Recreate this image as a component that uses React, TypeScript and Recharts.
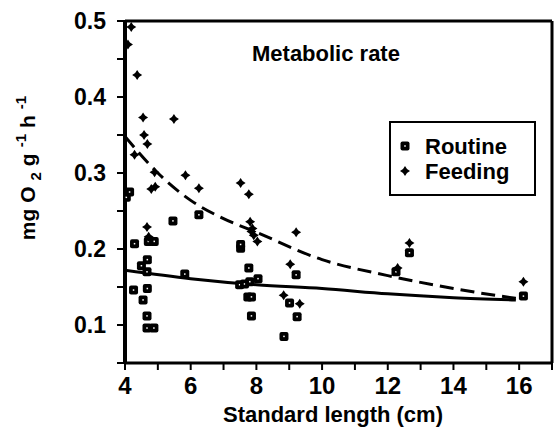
import React from 'react';
import {
  ComposedChart, Scatter, Line, XAxis, YAxis, ReferenceLine, Legend, Customized,
} from 'recharts';

const routineX = [4.04, 4.14, 4.29, 4.26, 4.50, 4.55, 4.67, 4.68, 4.68, 4.67, 4.67, 4.88, 4.71, 4.89, 5.46, 5.82, 6.25, 7.52, 7.52, 7.49, 7.64, 7.77, 7.80, 8.05, 7.74, 7.85, 7.85, 8.84, 9.01, 9.21, 9.24, 12.25, 12.66, 16.13];
const routineY = [0.268, 0.275, 0.207, 0.146, 0.178, 0.133, 0.170, 0.186, 0.148, 0.112, 0.096, 0.096, 0.210, 0.210, 0.237, 0.167, 0.245, 0.201, 0.206, 0.153, 0.154, 0.175, 0.157, 0.161, 0.137, 0.137, 0.112, 0.085, 0.129, 0.166, 0.111, 0.170, 0.195, 0.138];

const feedingX = [4.09, 4.19, 4.37, 4.55, 5.49, 4.58, 4.68, 4.29, 4.90, 5.84, 4.80, 4.92, 6.25, 4.67, 4.72, 7.52, 7.77, 7.81, 7.88, 7.85, 7.92, 8.03, 9.21, 9.03, 8.83, 9.32, 12.30, 12.66, 16.13];
const feedingY = [0.469, 0.492, 0.429, 0.373, 0.371, 0.350, 0.338, 0.324, 0.301, 0.297, 0.279, 0.282, 0.280, 0.229, 0.216, 0.287, 0.272, 0.236, 0.227, 0.223, 0.218, 0.210, 0.222, 0.180, 0.139, 0.128, 0.175, 0.208, 0.157];

const routineFitX = [4, 6, 8, 10, 12, 14, 15.9];
const routineFitY = [0.172, 0.161, 0.153, 0.148, 0.141, 0.136, 0.133];
const feedingFitX = [4, 5, 6, 7, 8, 10, 12, 14, 15.9];
const feedingFitY = [0.348, 0.300, 0.264, 0.240, 0.222, 0.186, 0.165, 0.148, 0.135];

const xTicks = [4, 5, 6, 7, 8, 9, 10, 11, 12, 13, 14, 15, 16, 17];
const xTickLabels = ['4', '6', '8', '10', '12', '14', '16'];
const yTicks = [0.05, 0.1, 0.15, 0.2, 0.25, 0.3, 0.35, 0.4, 0.45, 0.5];
const yTickLabels = ['0.1', '0.2', '0.3', '0.4', '0.5'];

const FONT = '"Liberation Sans", Arial, Helvetica, sans-serif';

const routine = routineX.map((x, i) => ({ x, y: routineY[i] }));
const feeding = feedingX.map((x, i) => ({ x, y: feedingY[i] }));
const routineFit = routineFitX.map((x, i) => ({ x, y: routineFitY[i] }));
const feedingFit = feedingFitX.map((x, i) => ({ x, y: feedingFitY[i] }));

const SquareShape = (props: any) => {
  const { cx, cy } = props;
  if (cx == null || cy == null) return null;
  return (
    <g>
      <rect x={cx - 4.5} y={cy - 4.5} width={9} height={9} rx={2} fill="#000" />
      <rect x={cx - 0.75} y={cy - 0.75} width={1.5} height={1.5} fill="#fff" />
    </g>
  );
};

const StarShape = (props: any) => {
  const { cx, cy } = props;
  if (cx == null || cy == null) return null;
  const r = 5, s = 2;
  const d = `M${cx},${cy - r} L${cx + s},${cy - s} L${cx + r},${cy} L${cx + s},${cy + s} L${cx},${cy + r} L${cx - s},${cy + s} L${cx - r},${cy} L${cx - s},${cy - s} Z`;
  return <path d={d} fill="#000" />;
};

const XTick = (props: any) => {
  const { x, y, payload } = props;
  const label = String(payload.value);
  if (!xTickLabels.includes(label)) return null;
  return (
    <text x={x} y={y + 22} textAnchor="middle" fontFamily={FONT} fontWeight="bold" fontSize={24} fill="#000">
      {label}
    </text>
  );
};

const YTick = (props: any) => {
  const { x, y, payload } = props;
  const label = (Math.round(payload.value * 100) / 100).toString();
  if (!yTickLabels.includes(label)) return null;
  return (
    <text x={x - 9} y={y + 8} textAnchor="end" fontFamily={FONT} fontWeight="bold" fontSize={23} fill="#000">
      {label}
    </text>
  );
};

const Texts = () => (
  <g fontFamily={FONT} fontWeight="bold" fill="#000">
    <text x={252} y={61} fontSize={22}>Metabolic rate</text>
    <text x={333} y={422} fontSize={22} textAnchor="middle">Standard length (cm)</text>
    <text transform="translate(35,168) rotate(-90)" fontSize={21} textAnchor="middle">
      <tspan>mg O</tspan>
      <tspan dx={6} dy={6} fontSize={15}>2</tspan>
      <tspan dx={6} dy={-6}>g</tspan>
      <tspan dx={6} dy={-9} fontSize={15}>-1</tspan>
      <tspan dx={6} dy={9}>h</tspan>
      <tspan dx={6} dy={-9} fontSize={15}>-1</tspan>
    </text>
  </g>
);

const LegendBox = () => (
  <div style={{
    width: 143, height: 71, border: '2px solid #000', boxSizing: 'content-box',
    fontFamily: FONT, fontWeight: 'bold', fontSize: 22, color: '#000', background: '#fff',
  }}>
    <svg width={143} height={71} style={{ display: 'block' }}>
      <SquareShape cx={14} cy={23} />
      <StarShape cx={14} cy={48} />
      <text x={34} y={31} fontFamily={FONT} fontWeight="bold" fontSize={22}>Routine</text>
      <text x={34} y={56} fontFamily={FONT} fontWeight="bold" fontSize={22}>Feeding</text>
    </svg>
  </div>
);

export default function App() {
  return (
    <div style={{ position: 'absolute', left: 0, top: 0, background: '#fff' }}>
      <ComposedChart width={557} height={431} margin={{ top: 21, right: 5, left: 65, bottom: 38 }}>
        <XAxis
          dataKey="x" type="number" domain={[4, 17]} ticks={xTicks} interval={0}
          allowDataOverflow
          axisLine={{ stroke: '#000', strokeWidth: 3 }}
          tickLine={{ stroke: '#000', strokeWidth: 2 }} tickSize={7}
          tick={<XTick />} height={30}
        />
        <YAxis
          dataKey="y" type="number" domain={[0.05, 0.5]} ticks={yTicks} interval={0}
          allowDataOverflow
          axisLine={{ stroke: '#000', strokeWidth: 4 }}
          tickLine={{ stroke: '#000', strokeWidth: 2 }} tickSize={8}
          tick={<YTick />} width={60}
        />
        <ReferenceLine y={0.5} stroke="#000" strokeWidth={3} />
        <ReferenceLine x={17} stroke="#000" strokeWidth={3} />
        <Line data={routineFit} dataKey="y" type="monotone" stroke="#000" strokeWidth={3} dot={false} isAnimationActive={false} legendType="none" />
        <Line data={feedingFit} dataKey="y" type="monotone" stroke="#000" strokeWidth={3} strokeDasharray="14 7" dot={false} isAnimationActive={false} legendType="none" />
        <Scatter name="Routine" data={routine} dataKey="y" shape={<SquareShape />} isAnimationActive={false} />
        <Scatter name="Feeding" data={feeding} dataKey="y" shape={<StarShape />} isAnimationActive={false} />
        <Legend
          layout="vertical" align="center" verticalAlign="middle"
          content={() => <LegendBox />}
          wrapperStyle={{ left: 389, top: 121, width: 147, height: 75 }}
        />
        <Customized component={Texts} />
      </ComposedChart>
    </div>
  );
}
